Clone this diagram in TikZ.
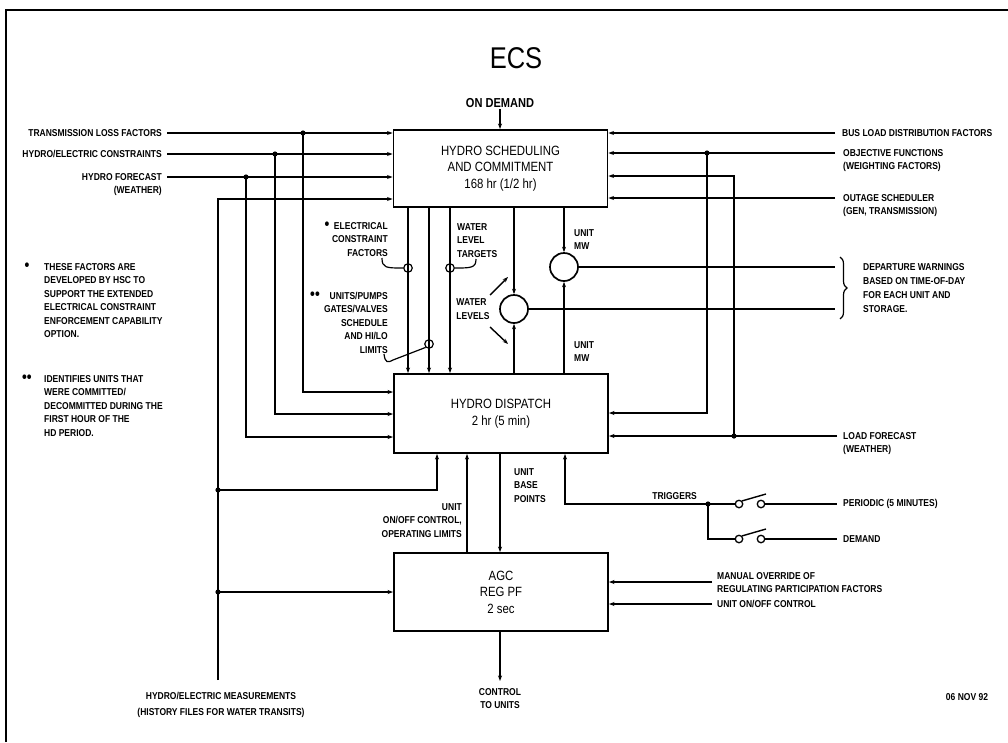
\documentclass[tikz,border=0pt]{standalone}
\usepackage{fontspec}
\setmainfont{Liberation Sans}
\newfontfamily\plotfont[FakeStretch=0.85]{Liberation Sans}
\usetikzlibrary{arrows.meta, positioning, calc, decorations.pathreplacing}
\tikzset{
    procbox/.style={rectangle, draw=black, line width=1.9pt, minimum width=214pt,
                    align=center, font=\plotfont\fontsize{13.4}{16.5}\selectfont},
    lbl/.style={font=\plotfont\bfseries\fontsize{10}{13.5}\selectfont, inner sep=0pt},
    dotlbl/.style={font=\plotfont\bfseries\fontsize{16}{16}\selectfont, inner sep=0pt},
    sig/.style={-{Stealth[length=5.5pt,width=4pt]}, line width=1.4pt},
    wire/.style={line width=1.4pt},
    contact/.style={circle, draw=black, line width=1.3pt, fill=white, inner sep=0pt, minimum size=7.5pt},
    tagring/.style={circle, draw=black, line width=1.2pt, inner sep=0pt, minimum size=8.5pt},
    cmpcircle/.style={circle, draw=black, line width=1.7pt, inner sep=0pt, minimum size=28pt},
}

\begin{document}
\begin{tikzpicture}[x=1pt, y=-1pt]
    \useasboundingbox (0,0) rectangle (1008,742);
    % sheet frame
    \draw[line width=1.2pt] (6,742) -- (6,10) -- (1008,10);
    \node[font=\plotfont\fontsize{30}{30}\selectfont] (title) at (516,58) {ECS};

    % the three programs
    \node[procbox, minimum height=77pt] (hsc) at (500.5,168.5)
        {HYDRO SCHEDULING\\AND COMMITMENT\\168 hr (1/2 hr)};
    \node[procbox, minimum height=79pt] (hd) at (501,413.5)
        {HYDRO DISPATCH\\2 hr (5 min)};
    \node[procbox, minimum height=78pt] (agc) at (501,592)
        {AGC\\REG PF\\2 sec};

    \node[lbl, font=\plotfont\bfseries\fontsize{13}{15}\selectfont, inner sep=1pt] (ondem) at (500,103) {ON DEMAND};
    \draw[sig] (ondem.south) -- (hsc.north -| ondem.south);

    % inputs on the left
    \coordinate (tlfS) at (167,133);
    \coordinate (hecS) at (167,154);
    \coordinate (hfcS) at (167,177);
    \node[lbl, left=5pt of tlfS] (tlf) {TRANSMISSION LOSS FACTORS};
    \node[lbl, left=5pt of hecS] (hec) {HYDRO/ELECTRIC CONSTRAINTS};
    \node[lbl, anchor=north east, align=right] (hfc) at (162,173) {HYDRO FORECAST\\(WEATHER)};
    \coordinate (j1) at (303,133);
    \coordinate (j2) at (275,154);
    \coordinate (j3) at (246,177);
    \draw[sig] (tlfS) -- (hsc.west |- tlfS);
    \draw[sig] (hecS) -- (hsc.west |- hecS);
    \draw[sig] (hfcS) -- (hsc.west |- hfcS);
    \draw[sig] (j1) |- (hd.west |- 0,392);
    \draw[sig] (j2) |- (hd.west |- 0,414);
    \draw[sig] (j3) |- (hd.west |- 0,437);
    \foreach \j in {j1,j2,j3} \fill (\j) circle (2.6pt);

    % measurements
    \coordinate (hemS) at (218,680);
    \coordinate (j6) at (218,592);
    \coordinate (j7) at (218,490);
    \node[lbl, anchor=north, align=center, font=\plotfont\bfseries\fontsize{10}{16}\selectfont] (hem) at (221,692)
        {HYDRO/ELECTRIC MEASUREMENTS\\(HISTORY FILES FOR WATER TRANSITS)};
    \draw[sig] (hemS) |- (hsc.west |- 0,199);
    \draw[sig] (j6) -- (agc.west |- j6);
    \draw[sig] (j7) -| (hd.south -| 437,0);
    \foreach \j in {j6,j7} \fill (\j) circle (2.6pt);

    % inputs on the right
    \coordinate (blS) at (835,133);
    \coordinate (ofS) at (835,153);
    \coordinate (osS) at (835,198);
    \coordinate (lfS) at (837,436);
    \coordinate (j4) at (707,153);
    \coordinate (j5) at (734,436);
    \node[lbl, right=7pt of blS] (bl) {BUS LOAD DISTRIBUTION FACTORS};
    \node[lbl, anchor=north west, align=left] (of) at (843,149) {OBJECTIVE FUNCTIONS\\(WEIGHTING FACTORS)};
    \node[lbl, anchor=north west, align=left] (os) at (843,194) {OUTAGE SCHEDULER\\(GEN, TRANSMISSION)};
    \node[lbl, anchor=north west, align=left] (lf) at (843,432) {LOAD FORECAST\\(WEATHER)};
    \draw[sig] (blS) -- (hsc.east |- blS);
    \draw[sig] (ofS) -- (hsc.east |- ofS);
    \draw[sig] (osS) -- (hsc.east |- osS);
    \draw[sig] (j5) |- (hsc.east |- 0,176);
    \draw[sig] (j4) |- (hd.east |- 0,413);
    \draw[sig] (lfS) -- (hd.east |- lfS);
    \foreach \j in {j4,j5} \fill (\j) circle (2.6pt);

    % schedule to dispatch
    \foreach \x in {408,429,450}
        \draw[sig] (hsc.south -| \x,0) -- (hd.north -| \x,0);
    \node[tagring] (ecfR) at (408,268) {};
    \node[tagring] (uppR) at (429,344) {};
    \node[tagring] (wltR) at (450,268) {};
    \node[lbl, anchor=north east, align=right] (ecf) at (388,222) {ELECTRICAL\\CONSTRAINT\\FACTORS};
    \node[dotlbl] (ecfB) at (327,226) {\textbullet};
    \node[lbl, anchor=north west, align=left] (wlt) at (457,223) {WATER\\LEVEL\\TARGETS};
    \node[lbl, anchor=north east, align=right] (upp) at (388,292) {UNITS/PUMPS\\GATES/VALVES\\SCHEDULE\\AND HI/LO\\LIMITS};
    \node[dotlbl] (uppB) at (315,296) {\textbullet\textbullet};
    \draw[wire, line width=1.2pt] (382,258) .. controls (382,268) and (386,268) .. (ecfR.west);
    \draw[wire, line width=1.2pt] (476,259) .. controls (476,268) and (471,268) .. (wltR.east);
    \draw[wire, line width=1.2pt] (384,354) .. controls (385,363) and (388,363) .. (393,360) -- (uppR.south west);

    % comparison of schedule and dispatch
    \node[cmpcircle] (wl) at (514,309) {};
    \node[cmpcircle] (umw) at (564,267) {};
    \draw[sig] (hsc.south -| wl.north) -- (wl.north);
    \draw[sig] (hd.north -| wl.south) -- (wl.south);
    \draw[sig] (hsc.south -| umw.north) -- (umw.north);
    \draw[sig] (hd.north -| umw.south) -- (umw.south);
    \node[lbl, anchor=north west, align=left] (umwA) at (574,229) {UNIT\\MW};
    \node[lbl, anchor=north west, align=left] (umwB) at (574,341) {UNIT\\MW};
    \node[lbl, align=left] (wllbl) at (473,309) {WATER\\LEVELS};
    \draw[sig] (490,295) -- (508,277);
    \draw[sig] (490,327) -- (508,344);
    \coordinate (dwA) at (835,267);
    \coordinate (dwB) at (835,309);
    \draw[wire] (umw.east) -- (dwA);
    \draw[wire] (wl.east) -- (dwB);
    \draw[wire, line width=1.2pt, decorate, decoration={brace, amplitude=7pt}] (840,257) -- (840,319);
    \node[lbl, anchor=north west, align=left, font=\plotfont\bfseries\fontsize{10}{14}\selectfont] (dw) at (863,263)
        {DEPARTURE WARNINGS\\BASED ON TIME-OF-DAY\\FOR EACH UNIT AND\\STORAGE.};

    % notes
    \node[dotlbl] (noteAb) at (27,267) {\textbullet};
    \node[lbl, anchor=north west, align=left] (noteA) at (44,263)
        {THESE FACTORS ARE\\DEVELOPED BY HSC TO\\SUPPORT THE EXTENDED\\ELECTRICAL CONSTRAINT\\ENFORCEMENT CAPABILITY\\OPTION.};
    \node[dotlbl] (noteBb) at (27,379) {\textbullet\textbullet};
    \node[lbl, anchor=north west, align=left] (noteB) at (44,375)
        {IDENTIFIES UNITS THAT\\WERE COMMITTED/\\DECOMMITTED DURING THE\\FIRST HOUR OF THE\\HD PERIOD.};

    % dispatch to agc
    \draw[sig] (agc.north -| 467,0) -- (hd.south -| 467,0);
    \draw[sig] (hd.south -| 500,0) -- (agc.north -| 500,0);
    \node[lbl, anchor=north east, align=right] (onoff) at (462,503) {UNIT\\ON/OFF CONTROL,\\OPERATING LIMITS};
    \node[lbl, anchor=north west, align=left] (ubp) at (514,468) {UNIT\\BASE\\POINTS};

    % triggers
    \coordinate (j8) at (708,504);
    \node[contact] (swA1) at (739,504) {};
    \node[contact] (swA2) at (761,504) {};
    \node[contact] (swB1) at (739,539) {};
    \node[contact] (swB2) at (761,539) {};
    \coordinate (perS) at (837,504);
    \coordinate (demS) at (837,539);
    \draw[sig] (j8) -| (hd.south -| 565,0);
    \draw[wire] (j8) -- (swA1);
    \draw[wire] (j8) |- (swB1);
    \draw[wire] (swA1.north east) -- (766,494);
    \draw[wire] (swB1.north east) -- (766,529);
    \draw[wire] (swA2) -- (perS);
    \draw[wire] (swB2) -- (demS);
    \fill (j8) circle (2.6pt);
    \node[lbl, anchor=south east] (trig) at (697,500) {TRIGGERS};
    \node[lbl, right=6pt of perS] (per) {PERIODIC (5 MINUTES)};
    \node[lbl, right=6pt of demS] (dem) {DEMAND};

    % agc inputs and output
    \coordinate (movS) at (712,582);
    \coordinate (uocS) at (712,604);
    \node[lbl, anchor=north west, align=left] (mov) at (717,572) {MANUAL OVERRIDE OF\\REGULATING PARTICIPATION FACTORS};
    \node[lbl, right=5pt of uocS] (uoc) {UNIT ON/OFF CONTROL};
    \draw[sig] (movS) -- (agc.east |- movS);
    \draw[sig] (uocS) -- (agc.east |- uocS);
    \coordinate (ctlE) at (500,681);
    \draw[sig] (agc.south -| ctlE) -- (ctlE);
    \node[lbl, anchor=north, align=center] (ctl) at (500,688) {CONTROL\\TO UNITS};

    \node[lbl] (date) at (967,697) {06 NOV 92};
\end{tikzpicture}
\end{document}
